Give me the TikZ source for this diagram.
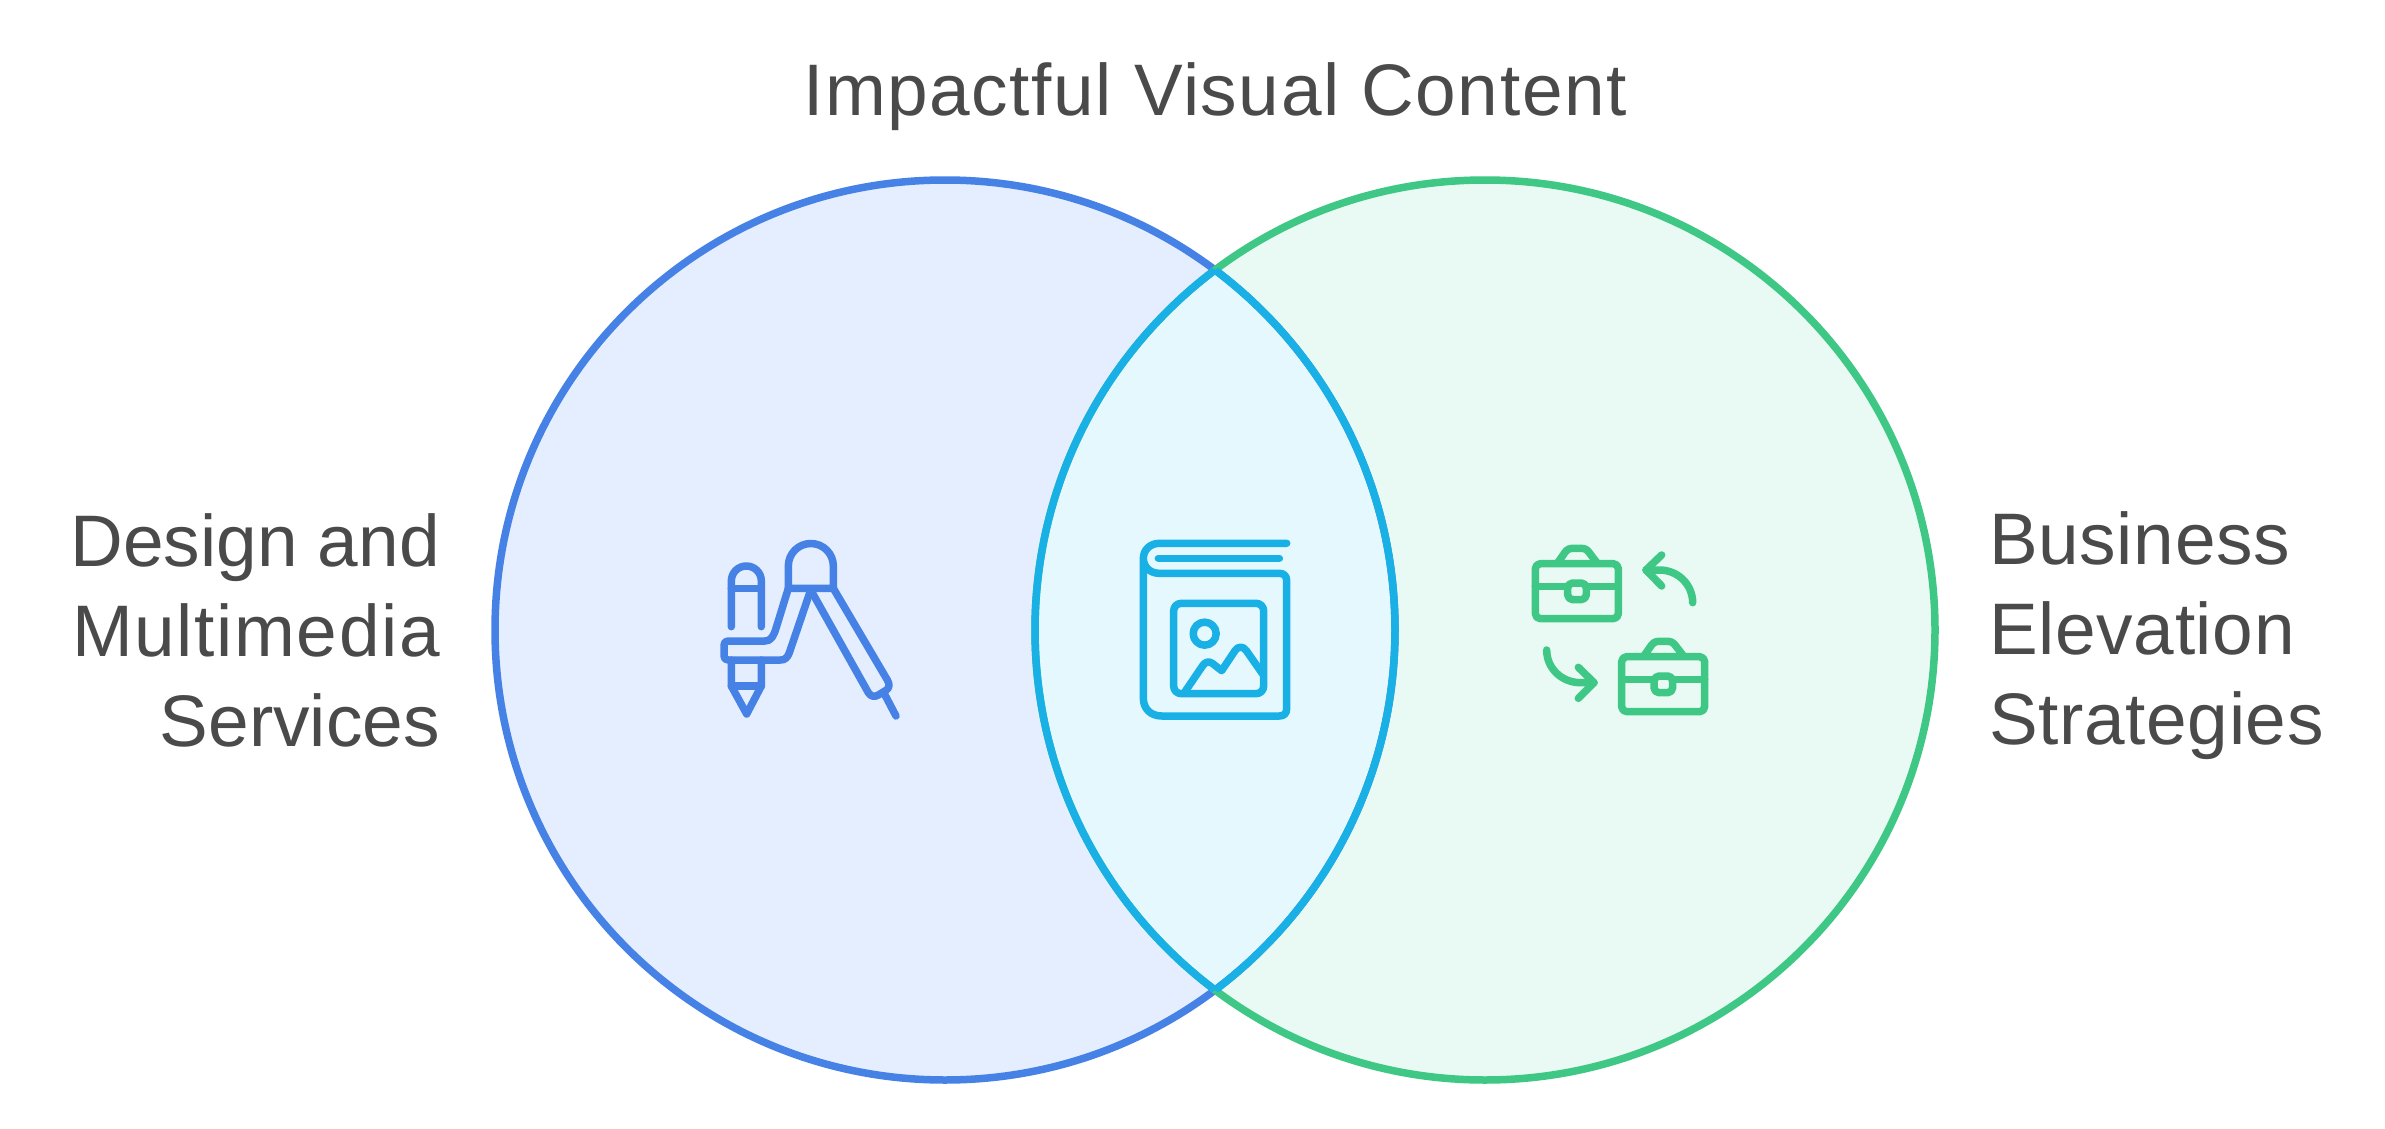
\documentclass[tikz,border=0pt]{standalone}
\usepackage{fontspec}
\setmainfont{Liberation Sans}
\newfontfamily\widerfont[LetterSpace=2.2]{Liberation Sans}
\newfontfamily\slightfont[LetterSpace=0.9]{Liberation Sans}
\definecolor{bluestroke}{HTML}{4682E6}
\definecolor{bluefill}{HTML}{E4EEFE}
\definecolor{greenstroke}{HTML}{3EC785}
\definecolor{greenfill}{HTML}{E8FAF3}
\definecolor{cyanstroke}{HTML}{18B0E5}
\definecolor{cyanfill}{HTML}{E5F8FE}
\definecolor{labeltext}{HTML}{4A4A4A}
\tikzset{
  ring/.style={line width=7.5pt},
  icon/.style={line width=7.5pt,line cap=round,line join=round},
  lab/.style={text=labeltext,inner sep=0pt,font=\fontsize{73}{90}\selectfont},
}
\begin{document}
\begin{tikzpicture}[x=1pt,y=-1pt]
\useasboundingbox[fill=white] (0,0) rectangle (2385,1129);
\def\rr{450pt}
\coordinate (cl) at (945,630);
\coordinate (cr) at (1485,630);
\fill[bluefill] (cl) circle[radius=\rr];
\fill[greenfill] (cr) circle[radius=\rr];
\begin{scope}
  \clip (cl) circle[radius=\rr];
  \fill[cyanfill] (cr) circle[radius=\rr];
\end{scope}
\draw[ring,bluestroke] (cl) circle[radius=\rr];
\draw[ring,greenstroke] (cr) circle[radius=\rr];
\begin{scope}
  \clip (cl) circle[radius=\rr];
  \draw[ring,cyanstroke] (cr) circle[radius=\rr];
\end{scope}
\begin{scope}
  \clip (cr) circle[radius=\rr];
  \draw[ring,cyanstroke] (cl) circle[radius=\rr];
\end{scope}
% Pencil and compass icon
\begin{scope}[shift={(690,510)},x=0.33333pt,y=-0.33333pt,icon,draw=bluestroke]
  \draw (124,350) -- (124,213) arc[start angle=180,end angle=0,radius=15pt] -- (214,350);
  \draw (124,235) -- (214,235);
  \draw (124,450) -- (124,528) -- (170,612) -- (214,528) -- (214,450);
  \draw (124,528) -- (214,528);
  \draw (295,235) -- (258,355) .. controls (251,378) and (243,393) .. (225,393) -- (115,393)
        .. controls (106,393) and (102,397) .. (102,406) -- (102,437)
        .. controls (102,446) and (106,450) .. (115,450) -- (272,450)
        .. controls (285,450) and (293,442) .. (298,428) -- (362,240);
  \draw (295,235) -- (295,168) arc[start angle=180,end angle=0,radius=22.5pt] -- (430,235) -- cycle;
  \draw (430,235) -- (592,510) .. controls (600,524) and (598,534) .. (588,541) -- (565,555)
        .. controls (553,562) and (543,560) .. (535,548) -- (365,245);
  \draw (585,555) -- (618,618);
\end{scope}
% Book icon
\begin{scope}[shift={(1120,520)},x=0.33333pt,y=-0.33333pt,icon,draw=cyanstroke]
  \draw (500,70) -- (118,70) .. controls (90,70) and (70,90) .. (70,115)
        .. controls (70,140) and (90,160) .. (118,160) -- (478,160)
        .. controls (492,160) and (500,168) .. (500,182) -- (500,566)
        .. controls (500,580) and (492,588) .. (478,588) -- (125,588)
        .. controls (92,588) and (70,566) .. (70,535) -- (70,115);
  \draw (115,115) -- (478,115);
  \draw[rounded corners=7.5pt] (161,250) rectangle (431,521);
  \draw (254,341) circle[radius=11.5pt];
  \draw (195,515) -- (248,437) .. controls (256,425) and (267,423) .. (277,430) -- (305,452)
        -- (345,392) .. controls (354,378) and (370,378) .. (379,392) -- (428,462);
\end{scope}
% Briefcases icon
\begin{scope}[shift={(1510,530)},x=0.33333pt,y=-0.33333pt,icon,draw=greenstroke]
  \foreach \dx/\dy in {0/0,259/279}{
    \begin{scope}[shift={(\dx,\dy)}]
      \draw[rounded corners=5pt] (76,101) rectangle (325,266);
      \draw (76,170) -- (173,170);
      \draw (229,170) -- (325,170);
      \draw[rounded corners=5pt] (173,159) rectangle (229,209);
      \draw (142,100) -- (165,67) .. controls (172,58) and (178,55) .. (190,55) -- (212,55)
            .. controls (224,55) and (230,58) .. (237,67) -- (262,100);
    \end{scope}
  }
  \draw (455,75) -- (408,120) -- (455,168);
  \draw (408,120) -- (448,120) .. controls (505,120) and (548,165) .. (548,218);
  \draw (205,412) -- (252,458) -- (205,505);
  \draw (252,458) -- (212,458) .. controls (155,458) and (110,415) .. (110,360);
\end{scope}
% Labels
\node[lab,anchor=base] (top) at (1215,116) {\widerfont Impactful Visual Content};
\node[lab,anchor=east,align=right] (left) at (440,630) {Design and\\{\widerfont Multimedia}\\Services};
\node[lab,anchor=west,align=left,font=\fontsize{73}{90}\selectfont\slightfont] (right) at (1989,636) {Business\\Elevation\\Strategies};
\end{tikzpicture}
\end{document}
